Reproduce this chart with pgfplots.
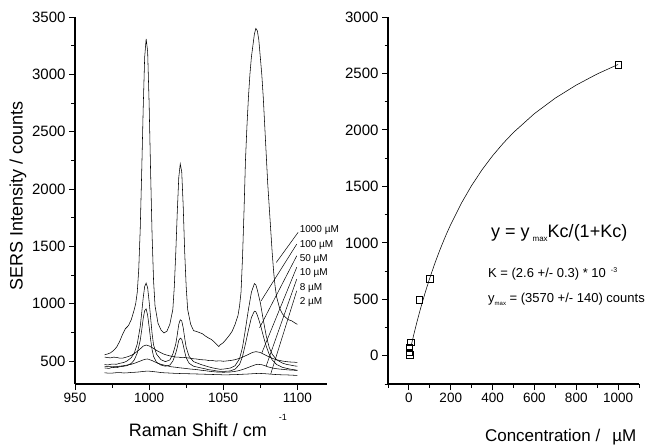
\documentclass[border=0pt]{standalone}
\usepackage{fontspec}
\setmainfont{Liberation Sans}
\usepackage{pgfplots}
\pgfplotsset{compat=1.18}
\begin{document}
\begin{tikzpicture}
\path[use as bounding box] (0,0) rectangle (658pt,445pt);
\pgfplotsset{
  common/.style={
    scale only axis, width=252pt, height=367pt, anchor=south west,
    axis x line*=bottom, axis y line*=left,
    axis line style={line width=1.1pt},
    tick align=outside,
    major tick length=6pt, minor tick length=3.5pt,
    every tick/.style={black, line width=1pt},
    /pgf/number format/assume math mode=true,
    /pgf/number format/1000 sep={},
    xticklabel style={font=\fontsize{13.5}{13.5}\selectfont},
    yticklabel style={font=\fontsize{15}{15}\selectfont},
    clip=false,
  },
  spec/.style={black, solid, line width=0.55pt, no markers},
}
% ---------------- left panel ----------------
\begin{axis}[common, at={(75pt,61pt)},
  xmin=950, xmax=1120, ymin=300, ymax=3500,
  xtick={950,1000,1050,1100}, minor xtick={975,1025,1075},
  ytick={500,1000,...,3500}, minor ytick={750,1250,...,3250},
]
% 1000 uM
\addplot[spec] coordinates {(970,555)(972,562)(974,572)(976,592)(978,620)(980,668)(982,730)(984,782)(986,808)(988,862)(990,950)(991,1005)(992,1100)(993,1300)(994,1650)(995,2150)(996,2700)(997,3150)(998,3310)(999,3200)(1000,2750)(1001,2150)(1002,1600)(1003,1200)(1004,980)(1006,830)(1008,772)(1010,745)(1012,760)(1014,822)(1016,950)(1017,1150)(1018,1450)(1019,1800)(1020,2100)(1021,2220)(1022,2150)(1023,1850)(1024,1450)(1025,1150)(1026,950)(1028,822)(1030,765)(1032,758)(1034,748)(1036,738)(1038,718)(1040,702)(1042,688)(1044,666)(1046,640)(1047,626)(1048,642)(1050,660)(1052,690)(1054,722)(1056,760)(1058,820)(1060,900)(1061,980)(1062,1100)(1063,1400)(1064,1800)(1065,2250)(1066,2550)(1067,2800)(1068,3000)(1069,3150)(1070,3250)(1071,3350)(1072,3400)(1073,3380)(1074,3300)(1075,3150)(1076,3000)(1077,2800)(1078,2550)(1079,2300)(1080,2050)(1081,1850)(1082,1650)(1083,1450)(1084,1280)(1085,1150)(1086,1060)(1088,962)(1090,910)(1092,882)(1094,860)(1096,852)(1098,835)(1100,820)};
% 100 uM
\addplot[spec] coordinates {(970,470)(972,466)(975,474)(978,472)(980,480)(983,488)(985,500)(988,530)(990,570)(992,650)(994,800)(995,920)(996,1050)(997,1150)(998,1180)(999,1140)(1000,1020)(1001,880)(1002,740)(1003,640)(1005,560)(1008,512)(1011,495)(1014,510)(1016,560)(1018,650)(1019,730)(1020,820)(1021,860)(1022,850)(1023,790)(1024,700)(1025,620)(1027,540)(1030,495)(1033,480)(1035,470)(1038,458)(1040,450)(1043,440)(1045,435)(1048,428)(1050,430)(1053,435)(1055,440)(1058,460)(1061,520)(1063,620)(1065,780)(1067,950)(1069,1100)(1071,1175)(1072,1165)(1073,1120)(1075,1010)(1077,860)(1079,720)(1081,620)(1083,560)(1086,512)(1090,482)(1093,470)(1095,466)(1098,458)(1100,455)};
% 50 uM
\addplot[spec] coordinates {(970,440)(973,436)(975,445)(978,442)(980,450)(983,455)(985,460)(988,480)(990,510)(992,570)(994,680)(995,770)(996,870)(997,940)(998,955)(999,900)(1000,800)(1001,690)(1002,600)(1003,540)(1005,490)(1008,465)(1011,455)(1014,465)(1016,500)(1018,570)(1019,620)(1020,680)(1021,700)(1022,690)(1023,640)(1024,580)(1025,530)(1027,480)(1030,455)(1033,446)(1035,440)(1038,432)(1040,425)(1043,420)(1045,415)(1048,410)(1050,410)(1053,412)(1055,415)(1058,430)(1061,470)(1063,540)(1065,650)(1067,770)(1069,880)(1071,935)(1072,930)(1073,900)(1075,820)(1077,720)(1079,630)(1081,560)(1083,510)(1086,470)(1090,445)(1093,436)(1095,430)(1098,424)(1100,420)};
% 10 uM
\addplot[spec] coordinates {(970,535)(972,530)(974,528)(976,534)(978,532)(980,526)(982,525)(984,532)(986,540)(988,550)(990,565)(993,595)(996,630)(998,640)(1000,632)(1003,610)(1006,585)(1010,560)(1012,552)(1014,545)(1016,540)(1018,535)(1020,534)(1022,530)(1024,531)(1026,528)(1028,524)(1030,520)(1032,518)(1035,512)(1038,510)(1040,505)(1042,506)(1045,500)(1048,502)(1050,498)(1053,502)(1055,505)(1058,512)(1060,520)(1062,528)(1064,540)(1066,552)(1068,565)(1070,576)(1072,582)(1075,575)(1078,555)(1080,542)(1082,530)(1084,520)(1086,510)(1088,506)(1090,500)(1092,496)(1095,492)(1098,490)(1100,488)};
% 8 uM
\addplot[spec] coordinates {(970,455)(972,452)(975,450)(978,452)(980,455)(983,460)(985,465)(988,472)(990,480)(992,490)(994,500)(997,515)(999,518)(1002,505)(1004,492)(1006,480)(1008,472)(1010,465)(1013,456)(1015,450)(1018,446)(1020,442)(1023,438)(1025,435)(1028,430)(1030,428)(1033,424)(1035,420)(1038,416)(1040,412)(1043,408)(1045,405)(1048,404)(1050,402)(1053,404)(1055,405)(1058,410)(1060,415)(1063,426)(1065,435)(1067,445)(1069,455)(1071,465)(1073,472)(1076,468)(1078,460)(1080,450)(1083,440)(1085,435)(1088,430)(1090,428)(1093,424)(1095,422)(1098,420)(1100,418)};
% 2 uM
\addplot[spec] coordinates {(970,398)(973,394)(975,395)(978,399)(980,400)(983,396)(985,397)(988,401)(990,402)(993,405)(995,408)(998,412)(1000,412)(1003,408)(1005,405)(1008,400)(1010,398)(1013,396)(1015,395)(1018,392)(1020,392)(1023,390)(1025,390)(1028,389)(1030,388)(1033,387)(1035,386)(1038,385)(1040,384)(1043,383)(1045,382)(1048,381)(1050,380)(1053,380)(1055,381)(1058,382)(1060,383)(1063,385)(1065,386)(1068,388)(1070,390)(1073,392)(1075,392)(1078,390)(1080,388)(1083,385)(1085,383)(1088,381)(1090,380)(1093,379)(1095,378)(1098,376)(1100,375)};
% leader lines
\draw[line width=0.5pt] (axis cs:1100.5,1622) -- (axis cs:1085.8,1360);
\draw[line width=0.5pt] (axis cs:1099.6,1520) -- (axis cs:1075.6,1026);
\draw[line width=0.5pt] (axis cs:1099.6,1418) -- (axis cs:1074.5,790);
\draw[line width=0.5pt] (axis cs:1099.6,1318) -- (axis cs:1076,570);
\draw[line width=0.5pt] (axis cs:1099.6,1215) -- (axis cs:1079,458);
\draw[line width=0.5pt] (axis cs:1099.6,1113) -- (axis cs:1082,386);
\begin{scope}[every node/.style={anchor=west, inner sep=0pt, font=\fontsize{10}{10}\selectfont}]
\node at (axis cs:1101.5,1642) {1000 µM};
\node at (axis cs:1101.5,1511) {100 µM};
\node at (axis cs:1101.5,1389) {50 µM};
\node at (axis cs:1101.5,1267) {10 µM};
\node at (axis cs:1101.5,1136) {8 µM};
\node at (axis cs:1101.5,1014) {2 µM};
\end{scope}
\node[rotate=90, font=\fontsize{18}{18}\selectfont] at (axis description cs:-0.226,0.512) {SERS Intensity / counts};
\node[font=\fontsize{18}{18}\selectfont] at (axis description cs:0.488,-0.125) {Raman Shift / cm};
\node[font=\fontsize{9}{9}\selectfont] at (axis description cs:0.825,-0.09) {-1};
\end{axis}
% ---------------- right panel ----------------
\begin{axis}[common, at={(388pt,61pt)}, width=251pt,
  xmin=-100, xmax=1100, ymin=-250, ymax=3000,
  xtick={0,200,...,1000}, minor xtick={-100,100,...,1100},
  ytick={0,500,...,3000}, minor ytick={-250,250,...,2750},
]
\addplot[spec] coordinates {(12,99.0)(20,162.1)(30,238.0)(40,310.7)(50,380.4)(60,447.3)(80,573.3)(100,690.0)(125,824.1)(150,946.9)(175,1059.6)(200,1163.5)(250,1348.6)(300,1508.6)(350,1648.2)(400,1771.2)(450,1880.3)(500,1977.8)(600,2144.6)(700,2282.1)(800,2397.3)(900,2495.4)(1000,2579.7)};
\addplot[black, only marks, mark=square, mark size=3.2pt, mark options={solid, line width=0.6pt}] coordinates {(1000,2575)(100,681)(50,496)(9,118)(1,77)(1,29)(5,9)};
\node[anchor=base west, inner sep=0pt, font=\fontsize{18}{18}\selectfont] at (axis cs:392,1044) {y = y\hspace{3pt}\raisebox{-3.5pt}{\fontsize{8}{8}\selectfont max}Kc/(1+Kc)};
\node[anchor=base west, inner sep=0pt, font=\fontsize{13}{13}\selectfont] at (axis cs:378,690) {K = (2.6 +/- 0.3) * 10\hspace{5pt}\raisebox{5pt}{\fontsize{7}{7}\selectfont -3}};
\node[anchor=base west, inner sep=0pt, font=\fontsize{13}{13}\selectfont] at (axis cs:378,469) {y\raisebox{-2.5pt}{\fontsize{6}{6}\selectfont max} = (3570 +/- 140) counts};
\node[anchor=east, inner sep=0pt, font=\fontsize{17}{17}\selectfont] at (axis description cs:0.99,-0.144) {Concentration /\hspace{12pt}µM};
\end{axis}
\end{tikzpicture}
\end{document}
